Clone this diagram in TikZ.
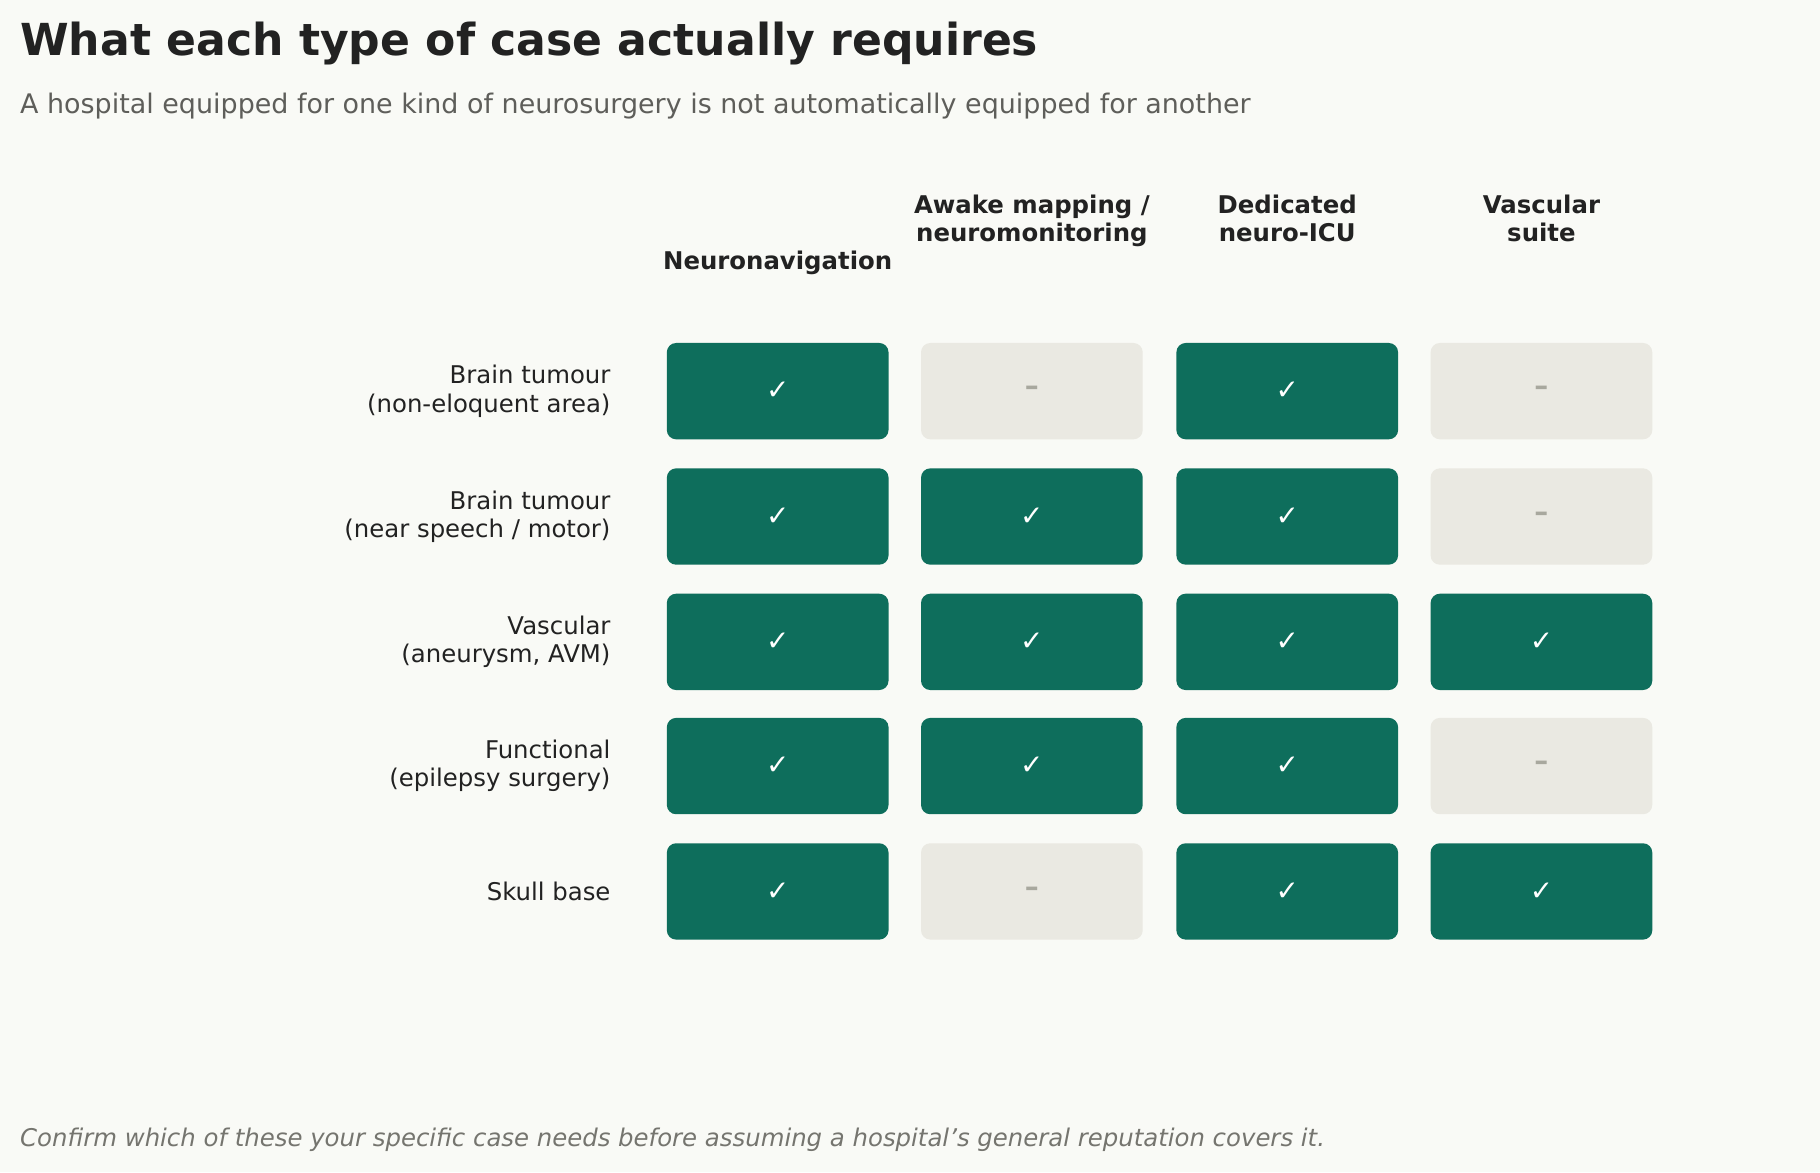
\documentclass[tikz,border=0pt]{standalone}
\usepackage{fontspec}
\setmainfont{DejaVu Sans}
\definecolor{bg}{HTML}{F9FAF6}
\definecolor{yes}{HTML}{0E6E5C}
\definecolor{no}{HTML}{EAE9E2}
\definecolor{dash}{HTML}{A8A89E}
\definecolor{ink}{HTML}{222222}
\definecolor{sub}{HTML}{5E5E5A}
\definecolor{foot}{HTML}{75756F}
\begin{document}
\begin{tikzpicture}[x=0.5pt,y=-0.5pt,
  cell/.style={rounded corners=4pt,minimum width=95.5pt,minimum height=41.5pt,inner sep=0pt},
  Y/.style={cell,fill=yes,text=white,font=\fontsize{12}{12}\selectfont,node contents={✓}},
  N/.style={cell,fill=no,text=dash,font=\bfseries\fontsize{12}{12}\selectfont,node contents={–}},
  hdr/.style={font=\bfseries\fontsize{10.5}{12}\selectfont,text=ink,align=center,anchor=base},
  lbl/.style={font=\fontsize{10.5}{12.2}\selectfont,text=ink,align=right,anchor=east}]
\fill[bg] (0,0) rectangle (1568,1010);
\useasboundingbox (0,0) rectangle (1568,1010);
\node[anchor=base west,font=\bfseries\fontsize{19}{22}\selectfont,text=ink,inner sep=0] (t) at (17,48) {What each type of case actually requires};
\node[anchor=base west,font=\fontsize{11.6}{14}\selectfont,text=sub,inner sep=0] (s) at (17,98) {A hospital equipped for one kind of neurosurgery is not automatically equipped for another};
\node[anchor=base west,font=\itshape\fontsize{10.5}{12}\selectfont,text=foot,inner sep=0] (f) at (17,988) {Confirm which of these your specific case needs before assuming a hospital's general reputation covers it.};
\node[hdr] (h1) at (670,232) {Neuronavigation};
\node[hdr] (h2) at (889,208) {Awake mapping /\\neuromonitoring};
\node[hdr] (h3) at (1109,208) {Dedicated\\neuro-ICU};
\node[hdr] (h4) at (1328,208) {Vascular\\suite};
\node[lbl] (l1) at (533,337) {Brain tumour\\(non-eloquent area)};
\node[lbl] (l2) at (533,445) {Brain tumour\\(near speech / motor)};
\node[lbl] (l3) at (533,553) {Vascular\\(aneurysm, AVM)};
\node[lbl] (l4) at (533,660) {Functional\\(epilepsy surgery)};
\node[lbl] (l5) at (533,768) {Skull base};
\foreach \r/\y/\a/\b/\c/\d in {1/337/Y/N/Y/N,2/445/Y/Y/Y/N,3/553/Y/Y/Y/Y,4/660/Y/Y/Y/N,5/768/Y/N/Y/Y}{
  \node (c\r a) at (670,\y) [\a];
  \node (c\r b) at (889,\y) [\b];
  \node (c\r c) at (1109,\y) [\c];
  \node (c\r d) at (1328,\y) [\d];
}
\end{tikzpicture}
\end{document}
